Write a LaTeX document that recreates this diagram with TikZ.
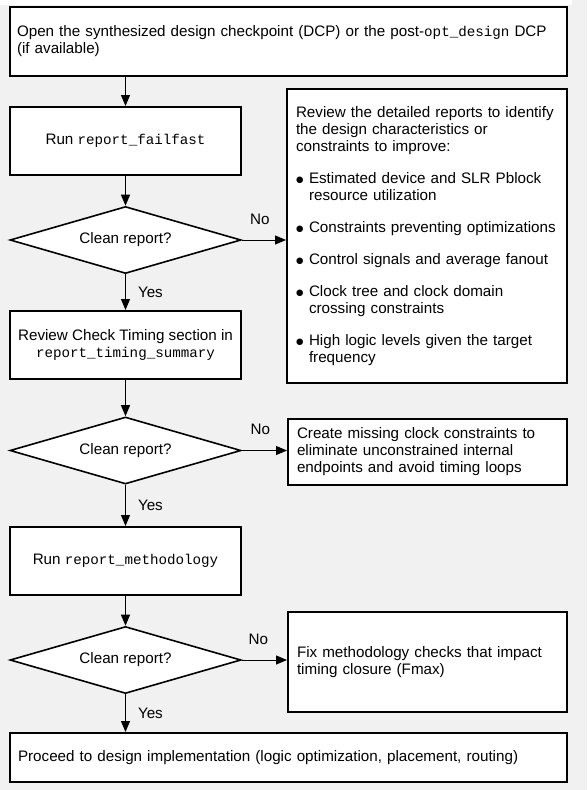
\documentclass[tikz,border=0pt]{standalone}
\usepackage{fontspec}
\setmainfont{Liberation Sans}
\setmonofont{Liberation Mono}
\newfontfamily\dejavu{DejaVu Sans}
\usetikzlibrary{shapes.geometric,arrows.meta}
\definecolor{bg}{HTML}{F1F1F1}
\newcommand{\mono}[1]{{\ttfamily\fontsize{14.2pt}{17pt}\selectfont #1}}
\newcommand{\blt}{\raisebox{1.2pt}{\dejavu\fontsize{8.5pt}{8.5pt}\selectfont ●}}
\newcommand{\itm}[1]{\mbox{\makebox[13pt][l]{\blt}#1}}
\newcommand{\cont}[1]{\mbox{\hspace*{13pt}#1}}
\begin{document}
\begin{tikzpicture}[x=1pt,y=-1pt,
  font=\fontsize{15.2pt}{17pt}\selectfont,
  box/.style={draw, line width=2pt, fill=white, inner ysep=0pt},
  lbox/.style={box, align=left},
  cbox/.style={box, align=center, minimum width=231pt, minimum height=68pt},
  dec/.style={draw, diamond, line width=1.6pt, fill=white, minimum width=231pt, minimum height=67pt, inner sep=0pt, aspect=3.4},
  arr/.style={-{Triangle[length=11pt,width=9pt]}, line width=1pt},
  lab/.style={inner sep=0pt}]
\fill[bg] (0,0) rectangle (587,790);
\fill[white] (0,0) rectangle (572,5);
\useasboundingbox (0,0) rectangle (587,790);

\node[lbox, text width=543pt, inner xsep=7pt, minimum height=69pt] (open) at (288.5,41.5)
  {Open the synthesized design checkpoint (DCP) or the post-\mono{opt\_design} DCP\\(if available)};
\node[cbox] (run) at (125.5,141) {Run \mono{report\_failfast}};
\node[dec] (d1) at (125.5,240) {Clean report?};
\node[lbox, text width=262pt, inner xsep=9pt, minimum height=294pt] (rev) at (427,236)
  {\mbox{Review the detailed reports to identify}\\
   the design characteristics or\\
   constraints to improve:\\[15pt]
   \itm{Estimated device and SLR Pblock}\\
   \cont{resource utilization}\\[15pt]
   \itm{Constraints preventing optimizations}\\[15pt]
   \itm{Control signals and average fanout}\\[15pt]
   \itm{Clock tree and clock domain}\\
   \cont{crossing constraints}\\[15pt]
   \itm{High logic levels given the target}\\
   \cont{frequency}};
\node[cbox] (chk) at (125.5,345) {Review Check Timing section in\\\mono{report\_timing\_summary}};
\node[dec] (d2) at (125.5,450.5) {Clean report?};
\node[lbox, text width=261pt, inner xsep=9pt, minimum height=66pt] (cre) at (427.5,452)
  {Create missing clock constraints to\\eliminate unconstrained internal\\endpoints and avoid timing loops};
\node[cbox] (meth) at (125.5,561) {Run \mono{report\_methodology}};
\node[dec] (d3) at (125.5,660) {Clean report?};
\node[lbox, text width=261pt, inner xsep=9pt, minimum height=100pt] (fix) at (427.5,662)
  {Fix methodology checks that impact\\timing closure (Fmax)};
\node[lbox, text width=541pt, inner xsep=8pt, minimum height=49pt] (proc) at (288.5,757.5)
  {Proceed to design implementation (logic optimization, placement, routing)};

\draw[arr] (open.south -| run.north) -- (run.north);
\draw[arr] (run) -- (d1);
\draw[arr] (d1) -- node[lab, right=12pt] {Yes} (chk);
\draw[arr] (d1.east) -- node[lab, midway, xshift=-4pt, yshift=21pt] {No} (d1.east -| rev.west);
\draw[arr] (chk) -- (d2);
\draw[arr] (d2) -- node[lab, right=12pt] {Yes} (meth);
\draw[arr] (d2.east) -- node[lab, midway, xshift=-4pt, yshift=21pt] {No} (d2.east -| cre.west);
\draw[arr] (meth) -- (d3);
\draw[arr] (d3.east) -- node[lab, midway, xshift=-6pt, yshift=21pt] {No} (d3.east -| fix.west);
\draw[arr] (d3) -- node[lab, right=12pt] {Yes} (d3 |- proc.north);
\end{tikzpicture}
\end{document}
